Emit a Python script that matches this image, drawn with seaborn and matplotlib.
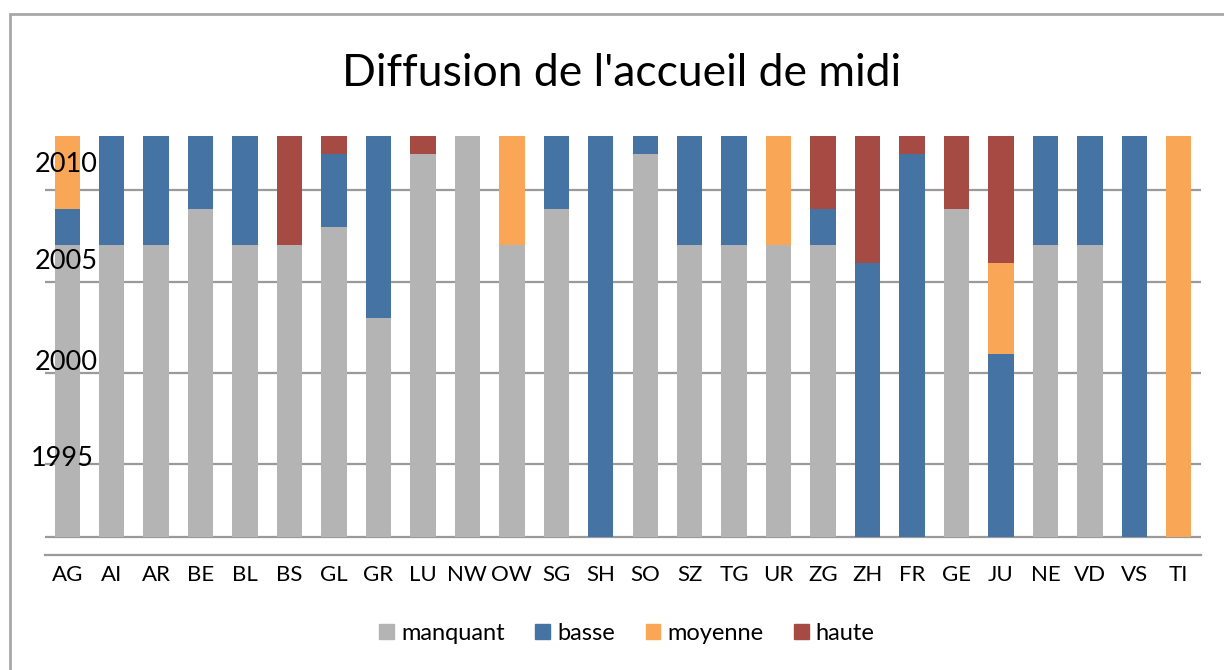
import matplotlib
matplotlib.use("Agg")
import matplotlib.pyplot as plt
import matplotlib.patches as mpatches
import numpy as np
import pandas as pd
import seaborn as sns

# cantons, in the order of the chart
cantons = ["AG", "AI", "AR", "BE", "BL", "BS", "GL", "GR", "LU", "NW", "OW", "SG", "SH",
           "SO", "SZ", "TG", "UR", "ZG", "ZH", "FR", "GE", "JU", "NE", "VD", "VS", "TI"]

# years spent in each level, stacked from 1991
manquant = [16, 16, 16, 18, 16, 16, 17, 12, 21, 22, 16, 18, 0,
            21, 16, 16, 16, 16, 0, 0, 18, 0, 16, 16, 0, 0]
basse = [2, 6, 6, 4, 6, 0, 4, 10, 0, 0, 0, 4, 22,
         1, 6, 6, 0, 2, 15, 21, 0, 10, 6, 6, 22, 0]
moyenne = [4, 0, 0, 0, 0, 0, 0, 0, 0, 0, 6, 0, 0,
           0, 0, 0, 6, 0, 0, 0, 0, 5, 0, 0, 0, 22]
haute = [0, 0, 0, 0, 0, 6, 1, 0, 1, 0, 0, 0, 0,
         0, 0, 0, 0, 4, 7, 1, 4, 7, 0, 0, 0, 0]

start_year = 1991
series = ["manquant", "basse", "moyenne", "haute"]
colors = ["#B4B4B4", "#4473A4", "#F9A756", "#A64A44"]
year_ticks = [1995, 2000, 2005, 2010]

df = pd.DataFrame({"canton": cantons, "manquant": manquant, "basse": basse,
                   "moyenne": moyenne, "haute": haute})

sns.set_style("white")
plt.rcParams["font.family"] = ["Lato", "DejaVu Sans"]
plt.rcParams["text.color"] = "black"

fig = plt.figure(figsize=(12.24, 6.70), dpi=100)
ax = fig.add_axes([45 / 1224, 1 - 555 / 670, 1156 / 1224, 419.3 / 670])

bottom = np.full(len(cantons), float(start_year))
for name, col in zip(series, colors):
    sns.barplot(data=df, x="canton", y=name, order=cantons, color=col,
                bottom=bottom, width=0.57, linewidth=0, saturation=1,
                ax=ax, zorder=3)
    bottom = bottom + df[name].to_numpy()

ax.set_xlim(-0.5, len(cantons) - 0.5)
ax.set_ylim(1990, 2013)

# gridlines and base line
for yv in year_ticks + [start_year]:
    ax.axhline(yv, color="#9A9A9A", lw=1.6, zorder=1)

for s in ["left", "right", "top"]:
    ax.spines[s].set_visible(False)
ax.spines["bottom"].set_color("#9A9A9A")
ax.spines["bottom"].set_linewidth(1.6)

ax.set_yticks([])
ax.set_xlabel("")
ax.set_ylabel("")
ax.tick_params(axis="x", length=0, pad=7, labelsize=16, colors="black")

# year labels sit a bit above their gridlines, as in the original
label_pos = [1995.3, 2000.55, 2006.1, 2011.4]
label_x = [-0.0124, -0.0087, -0.0087, -0.0087]
for yr, yp, xp in zip(year_ticks, label_pos, label_x):
    ax.text(xp, yp, str(yr), transform=ax.get_yaxis_transform(),
            ha="left", va="center", fontsize=19.5, zorder=5)

fig.text(622 / 1224, 1 - 86 / 670, "Diffusion de l'accueil de midi",
         ha="center", va="baseline", fontsize=32)

handles = [mpatches.Patch(color=c, label=n) for n, c in zip(series, colors)]
fig.legend(handles=handles, loc="center", bbox_to_anchor=(627 / 1224, 1 - 633 / 670),
           ncol=4, frameon=False, fontsize=17, handlelength=0.62, handleheight=0.62,
           handletextpad=0.3, columnspacing=1.3, labelcolor="black")

# chart area border
fig.add_artist(mpatches.Rectangle((10 / 1224, -0.1), 1.5, 1 - 14 / 670 + 0.1,
                                  transform=fig.transFigure, fill=False,
                                  edgecolor="#A8A8A8", lw=2))

fig.savefig("out.png", dpi=100)
